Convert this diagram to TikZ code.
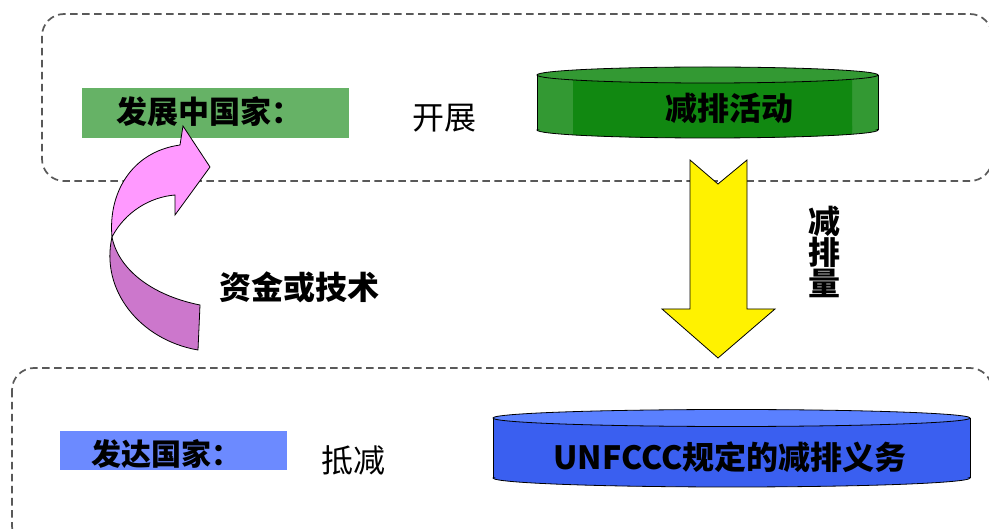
\documentclass[tikz,border=0pt]{standalone}
\usepackage{fontspec}
\newfontfamily\cjk{Noto Sans CJK SC}
\begin{document}
\begin{tikzpicture}[x=1pt,y=-1pt,
  dashbox/.style={draw=gray!70!black,line width=1.7pt,dash pattern=on 7.5pt off 4.5pt,rounded corners=22pt},
  lbl/.style={inner sep=0pt,font=\cjk\bfseries\fontsize{31pt}{33pt}\selectfont},
  plain/.style={inner sep=0pt,font=\cjk\fontsize{32pt}{34pt}\selectfont},
  outl/.style={draw=black,line width=0.8pt}]
\useasboundingbox (0,0) rectangle (989,529);
\begin{scope}
\clip (0,0) rectangle (989,529);
% dashed boxes
\draw[dashbox] (42,14) rectangle (992,181);
\draw[dashbox] (12,368) rectangle (992,548);
\end{scope}

% top green label
\fill[fill={rgb,255:red,102;green,178;blue,102}] (82,88) rectangle (349,138);
\node[lbl,anchor=west] (dev) at (116,112) {发展中国家：};
\node[plain] (kz) at (444,118) {开展};

% green cylinder
\definecolor{gLight}{RGB}{51,153,51}
\definecolor{gDark}{RGB}{17,136,17}
\fill[gLight] (707.5,130) ellipse [x radius=170.5pt, y radius=8pt];
\fill[gLight] (537,75) rectangle (878,130);
\begin{scope}
\clip (573,75) rectangle (852,140);
\fill[gDark] (707.5,130) ellipse [x radius=170.5pt, y radius=8pt];
\fill[gDark] (537,75) rectangle (878,130);
\end{scope}
\begin{scope}
\clip (530,130) rectangle (885,145);
\draw[outl] (707.5,130) ellipse [x radius=170.5pt, y radius=8pt];
\end{scope}
\draw[outl] (537,75) -- (537,130) (878,75) -- (878,130);
\filldraw[outl,fill=gLight] (707.5,75) ellipse [x radius=170.5pt, y radius=8pt];
\node[lbl,font=\cjk\bfseries\fontsize{32pt}{34pt}\selectfont] (act) at (729,108) {减排活动};

% yellow arrow
\filldraw[outl,fill=yellow] (690,160) -- (718,184) -- (747,160) -- (747,309) -- (775,309) -- (718,358) -- (662,309) -- (690,309) -- cycle;
\node[lbl,align=center,font=\cjk\bfseries\fontsize{32pt}{31pt}\selectfont] (amt) at (824,252) {减\\排\\量};

% pink curved arrow
\definecolor{pLight}{RGB}{255,153,255}
\definecolor{pDark}{RGB}{204,119,204}
\filldraw[outl,fill=pDark] (112,237) .. controls (100,290) and (140,340) .. (198,350) -- (200,305) .. controls (150,295) and (118,268) .. (112,237) -- cycle;
\filldraw[outl,fill=pLight] (112,237) .. controls (108,195) and (130,152) .. (180,145) -- (183,126) -- (210,167) -- (175,215) -- (175,195) .. controls (150,197) and (125,212) .. (112,237) -- cycle;
\node[lbl,font=\cjk\bfseries\fontsize{32pt}{34pt}\selectfont] (fund) at (299,287) {资金或技术};

% bottom blue label
\fill[fill={rgb,255:red,108;green,138;blue,255}] (60,431) rectangle (287,470);
\node[lbl,anchor=west,font=\cjk\bfseries\fontsize{30pt}{32pt}\selectfont] (ind) at (91,454) {发达国家：};
\node[plain] (dj) at (353,460) {抵减};

% blue cylinder
\definecolor{bBody}{RGB}{58,95,240}
\definecolor{bTop}{RGB}{90,128,255}
\fill[bBody] (731.5,478) ellipse [x radius=238.5pt, y radius=9pt];
\fill[bBody] (493,418) rectangle (970,478);
\begin{scope}
\clip (485,478) rectangle (978,492);
\draw[outl] (731.5,478) ellipse [x radius=238.5pt, y radius=9pt];
\end{scope}
\draw[outl] (493,418) -- (493,478) (970,418) -- (970,478);
\filldraw[outl,fill=bTop] (731.5,418) ellipse [x radius=238.5pt, y radius=8.5pt];
\node[lbl,font=\cjk\bfseries\fontsize{32pt}{34pt}\selectfont] (obl) at (730,457) {UNFCCC规定的减排义务};
\end{tikzpicture}
\end{document}
